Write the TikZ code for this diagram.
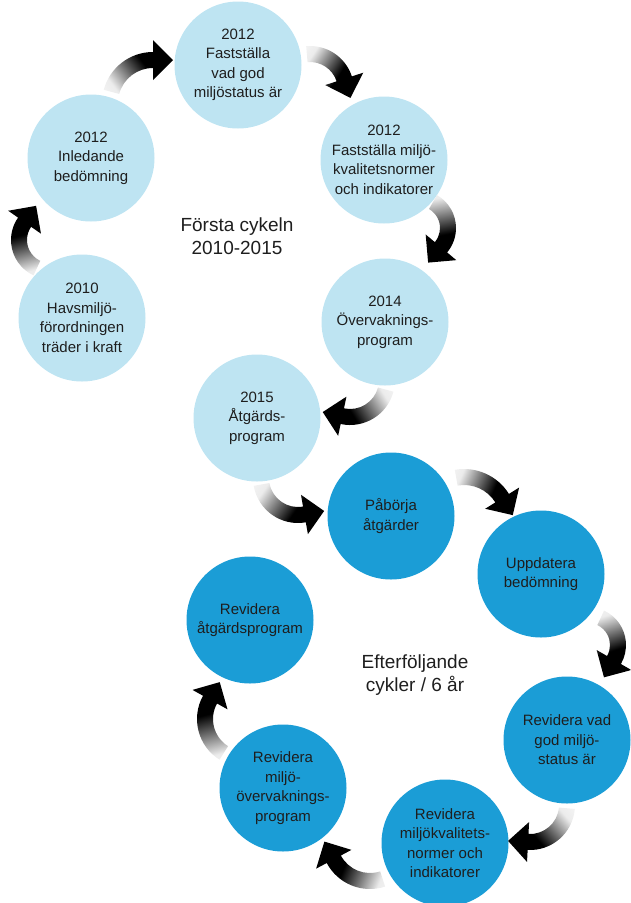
\documentclass[tikz,border=0pt]{standalone}
\usepackage{fontspec}
\setmainfont{Liberation Sans}
\usetikzlibrary{calc}
\definecolor{sea}{RGB}{190,228,242}
\definecolor{deep}{RGB}{27,157,214}
\definecolor{ink}{RGB}{30,30,30}
\pgfdeclarehorizontalshading{bendfade}{100bp}{color(0bp)=(white); color(25bp)=(gray!15); color(55bp)=(black); color(100bp)=(black)}
\tikzset{
    stage/.style={circle, minimum size=127pt, inner sep=0pt, align=center, text=ink, font=\fontsize{15}{19.5}\selectfont},
    early/.style={stage, fill=sea},
    later/.style={stage, fill=deep},
    caption/.style={align=center, text=ink, font=\fontsize{19}{23}\selectfont}
}
% centre, radius, start angle, end angle
\newcommand{\bentarrow}[4]{%
    \pgfmathsetmacro{\sgn}{(#4>#3) ? 1 : -1}
    \pgfmathsetmacro{\tang}{#4+90*\sgn}
    \pgfmathsetmacro{\chord}{(#3+#4)/2+90*\sgn}
    \pgfmathsetmacro{\tipx}{#2*cos(#4)+20*cos(\tang)}
    \pgfmathsetmacro{\tipy}{#2*sin(#4)+20*sin(\tang)}
    \begin{scope}[shift={(#1)}]
        \shade[shading=bendfade, shading angle=\chord]
            (#3:{#2+8}) arc[start angle=#3, end angle=#4, radius={#2+8}]
            -- (#4:{#2+20}) -- (\tipx,\tipy) -- (#4:{#2-20}) -- (#4:{#2-8})
            arc[start angle=#4, end angle=#3, radius={#2-8}] -- cycle;
    \end{scope}}

\begin{document}
\begin{tikzpicture}[x=1pt, y=1pt]
    \useasboundingbox (0,0) rectangle (630,-903);
    \node[early] (fastvad) at (238,-65) {2012\\Fastställa\\vad god\\miljöstatus är};
    \node[early] (fastnorm) at (384,-160) {2012\\Fastställa miljö-\\kvalitetsnormer\\och indikatorer};
    \node[early] (inledande) at (91,-158) {2012\\Inledande\\bedömning};
    \node[early] (havsmiljo) at (82,-318) {2010\\Havsmiljö-\\förordningen\\träder i kraft};
    \node[early] (overvak) at (385,-322) {2014\\Övervaknings-\\program};
    \node[early] (atgard) at (257,-418) {2015\\Åtgärds-\\program};
    \node[later] (paborja) at (391,-516) {Påbörja\\åtgärder};
    \node[later] (uppdatera) at (541,-574) {Uppdatera\\bedömning};
    \node[later] (revstatus) at (567,-740) {Revidera vad\\god miljö-\\status är};
    \node[later] (revnorm) at (445,-843) {Revidera\\miljökvalitets-\\normer och\\indikatorer};
    \node[later] (revover) at (283,-788) {Revidera\\miljö-\\övervaknings-\\program};
    \node[later] (revatgard) at (250,-620) {Revidera\\åtgärdsprogram};
    \node[caption] (forsta) at (237,-236) {Första cykeln\\2010-2015};
    \node[caption] (efter) at (415,-675) {Efterföljande\\cykler / 6 år};
    % arc centres of the turning arrows
    \coordinate (arc1) at (50,-240);
    \coordinate (arc2) at (153,-103);
    \coordinate (arc3) at (310,-90);
    \coordinate (arc4) at (418,-228);
    \coordinate (arc5) at (350,-380);
    \coordinate (arc6) at (298,-478);
    \coordinate (arc7) at (464,-522);
    \coordinate (arc8) at (588,-645);
    \coordinate (arc9) at (530,-805);
    \coordinate (arc10) at (370,-840);
    \coordinate (arc11) at (245,-719);
    \bentarrow{arc1}{31}{245}{145}
    \bentarrow{arc2}{43}{165}{90}
    \bentarrow{arc3}{36}{95}{18}
    \bentarrow{arc4}{30}{60}{-40}
    \bentarrow{arc5}{37}{-15}{-102}
    \bentarrow{arc6}{37}{190}{280}
    \bentarrow{arc7}{45}{100}{32}
    \bentarrow{arc8}{30}{65}{-30}
    \bentarrow{arc9}{37}{-5}{-93}
    \bentarrow{arc10}{41}{-72}{-152}
    \bentarrow{arc11}{40}{238}{151}
\end{tikzpicture}
\end{document}
